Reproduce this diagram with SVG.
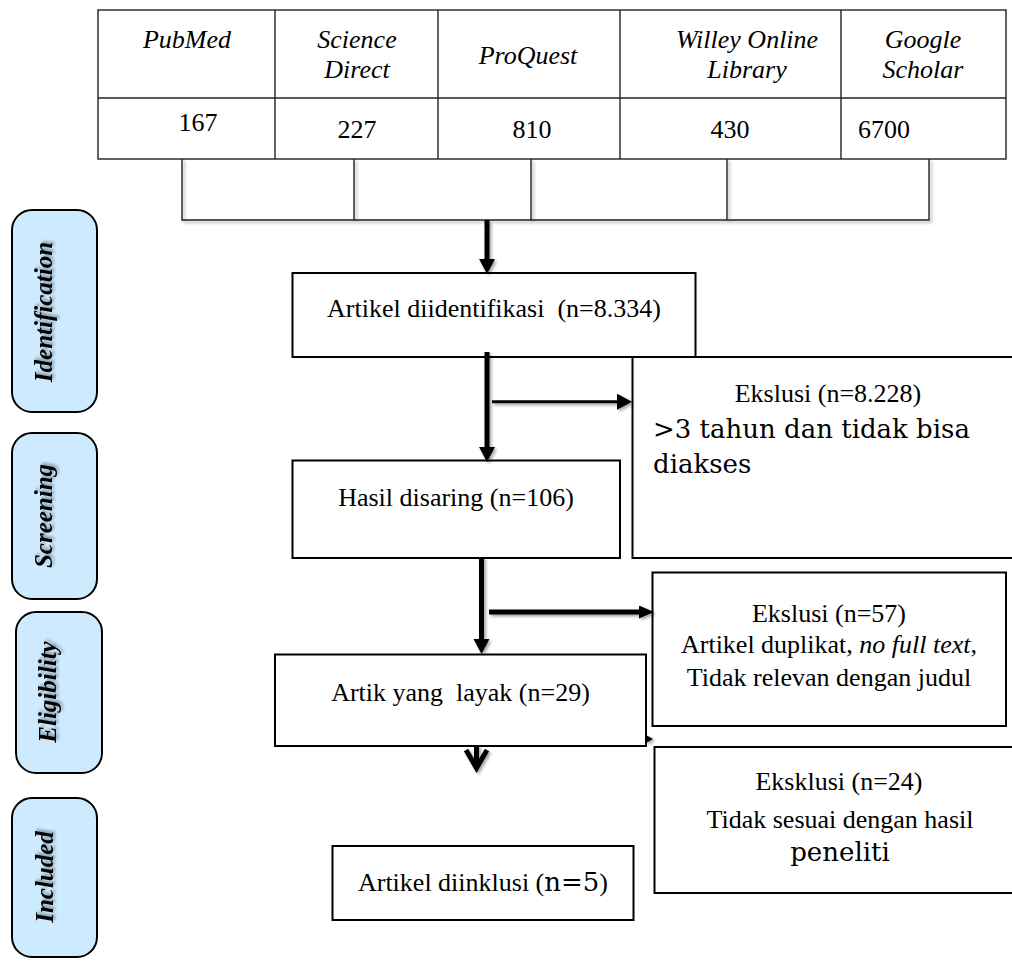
<svg xmlns="http://www.w3.org/2000/svg" width="1012" height="961" viewBox="0 0 1012 961">
<style>
text{font-family:'Liberation Serif','Times New Roman',Times,serif;font-size:26px;fill:#000}
.i{font-style:italic}
.c{font-family:'DejaVu Serif',serif;font-size:26px}
.box{fill:#fff;stroke:#000;stroke-width:2}
.tbl{fill:none;stroke:#222;stroke-width:1.4}
.ph{fill:#cdeaff;stroke:#000;stroke-width:2}
.pt{font-size:25px;font-weight:bold;font-style:italic}
.ar{stroke:#000;fill:none}
</style>
<defs>
<filter id="sh" x="-20%" y="-20%" width="150%" height="150%">
<feDropShadow dx="2" dy="2" stdDeviation="1.5" flood-color="#000" flood-opacity="0.35"/>
</filter>
<marker id="ah" markerUnits="userSpaceOnUse" markerWidth="16" markerHeight="18" refX="0" refY="8" orient="auto">
<path d="M0,0 L15,8 L0,16 z" fill="#000"/>
</marker>
<marker id="ahs" markerUnits="userSpaceOnUse" markerWidth="16" markerHeight="14" refX="0" refY="6.5" orient="auto">
<path d="M0,0 L15,6.5 L0,13 z" fill="#000"/>
</marker>
</defs>

<g id="sources" font-family="Liberation Serif, serif">
<rect class="tbl" x="98" y="10" width="908" height="149"/>
<line class="tbl" x1="98" y1="98" x2="1006" y2="98"/>
<line class="tbl" x1="275" y1="10" x2="275" y2="159"/>
<line class="tbl" x1="438" y1="10" x2="438" y2="159"/>
<line class="tbl" x1="620" y1="10" x2="620" y2="159"/>
<line class="tbl" x1="841" y1="10" x2="841" y2="159"/>
<text class="i" x="187" y="48" text-anchor="middle">PubMed</text>
<text class="i" x="357" y="48" text-anchor="middle">Science</text>
<text class="i" x="357" y="78" text-anchor="middle">Direct</text>
<text class="i" x="528" y="64" text-anchor="middle">ProQuest</text>
<text class="i" x="747" y="48" text-anchor="middle">Willey Online</text>
<text class="i" x="747" y="78" text-anchor="middle">Library</text>
<text class="i" x="923" y="48" text-anchor="middle">Google</text>
<text class="i" x="923" y="78" text-anchor="middle">Scholar</text>
<text x="198" y="131" text-anchor="middle">167</text>
<text x="357" y="138" text-anchor="middle">227</text>
<text x="532" y="138" text-anchor="middle">810</text>
<text x="730" y="138" text-anchor="middle">430</text>
<text x="858" y="138">6700</text>
</g>

<g id="phase-identification">
<rect class="ph" x="12" y="210" width="85" height="202" rx="20"/>
<text class="pt" filter="url(#sh)" transform="translate(52,312) rotate(-90)" text-anchor="middle">Identification</text>
</g>
<g id="phase-screening">
<rect class="ph" x="12" y="433" width="85" height="166" rx="20"/>
<text class="pt" filter="url(#sh)" transform="translate(52,516) rotate(-90)" text-anchor="middle">Screening</text>
</g>
<g id="phase-eligibility">
<rect class="ph" x="16" y="612" width="86" height="161" rx="20"/>
<text class="pt" filter="url(#sh)" transform="translate(56,692) rotate(-90)" text-anchor="middle">Eligibility</text>
</g>
<g id="phase-included">
<rect class="ph" x="12" y="798" width="85" height="159" rx="20"/>
<text class="pt" filter="url(#sh)" transform="translate(53,877) rotate(-90)" text-anchor="middle">Included</text>
</g>

<g id="identified">
<rect class="box" x="292.5" y="273" width="403" height="84"/>
<text x="494" y="317" text-anchor="middle" style="white-space:pre">Artikel diidentifikasi  (n=8.334)</text>
</g>

<g id="exclusion-1">
<path class="box" d="M1020,357 H632.5 V558 H1020"/>
<text x="828" y="402" text-anchor="middle">Ekslusi (n=8.228)</text>
<text class="c" x="653" y="438">&gt;3 tahun dan tidak bisa</text>
<text class="c" x="653" y="473">diakses</text>
</g>

<g id="screened">
<rect class="box" x="292.5" y="460.5" width="327.5" height="97.5"/>
<text x="456" y="506" text-anchor="middle">Hasil disaring (n=106)</text>
</g>

<g id="exclusion-2">
<rect class="box" x="652.5" y="572.5" width="353.5" height="153.5"/>
<text x="829" y="622" text-anchor="middle">Ekslusi (n=57)</text>
<text x="829" y="653" text-anchor="middle">Artikel duplikat, <tspan class="i">no full text</tspan>,</text>
<text x="829" y="686" text-anchor="middle">Tidak relevan dengan judul</text>
</g>

<g id="eligible">
<rect class="box" x="275" y="654.5" width="371" height="91.5"/>
<text x="460.5" y="701" text-anchor="middle" style="white-space:pre">Artik yang  layak (n=29)</text>
</g>

<g id="exclusion-3">
<path class="box" d="M1020,747 H654.5 V893 H1020"/>
<text x="839" y="790" text-anchor="middle">Eksklusi (n=24)</text>
<text x="840" y="828" text-anchor="middle">Tidak sesuai dengan hasil</text>
<text class="c" x="840" y="861" text-anchor="middle">peneliti</text>
</g>

<g id="included">
<rect class="box" x="332.5" y="846" width="301" height="74"/>
<text x="483" y="891" text-anchor="middle">Artikel diinklusi (<tspan class="c">n=5</tspan>)</text>
</g>

<g id="connectors" filter="url(#sh)">
<path class="tbl" stroke-width="2" d="M182,159 V220 H929 V159 M354,159 V220 M531,159 V220 M727,159 V220"/>
<line class="ar" x1="487" y1="220" x2="487" y2="259" stroke-width="5" marker-end="url(#ah)"/>
<line class="ar" x1="487" y1="352" x2="487" y2="447" stroke-width="5" marker-end="url(#ah)"/>
<line class="ar" x1="492" y1="401.7" x2="617" y2="401.7" stroke-width="3" marker-end="url(#ah)"/>
<line class="ar" x1="481.5" y1="557" x2="481.5" y2="639" stroke-width="5" marker-end="url(#ah)"/>
<line class="ar" x1="489" y1="612" x2="639" y2="612" stroke-width="5" marker-end="url(#ahs)"/>
<path class="ar" stroke-width="5" d="M476.5,745 V764 M466,750 L476.5,768 L487,750"/>
<path d="M646,735 L653,739 L646,743 z" fill="#000"/>
</g>
</svg>
